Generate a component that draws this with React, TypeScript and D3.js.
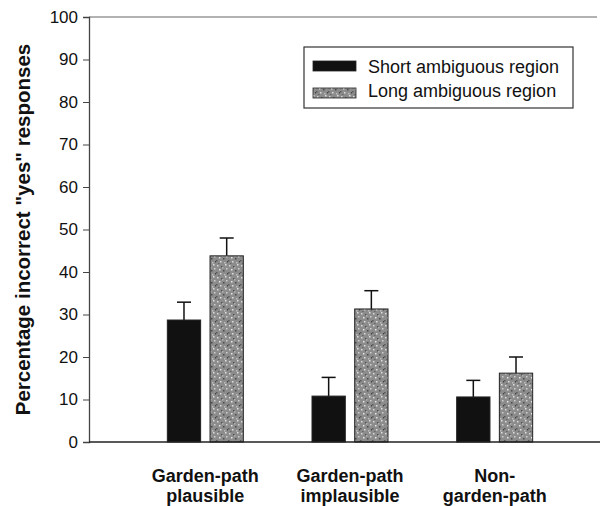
import React, { useRef, useEffect } from 'react';
import * as d3 from 'd3';

const categories = [['Garden-path', 'plausible'], ['Garden-path', 'implausible'], ['Non-', 'garden-path']];
const seriesNames = ['Short ambiguous region', 'Long ambiguous region'];
const shortValues = [28.7, 10.8, 10.6];
const shortErrors = [4.2, 4.4, 3.9];
const longValues = [43.8, 31.3, 16.2];
const longErrors = [4.2, 4.3, 3.8];
const yTicks = [0, 10, 20, 30, 40, 50, 60, 70, 80, 90, 100];

const FONT = 'Arial, "Liberation Sans", sans-serif';

const App = () => {
  const svgRef = useRef(null);
  const width = 600;
  const height = 506;

  useEffect(() => {
    const svg = d3.select(svgRef.current);
    svg.selectAll('*').remove();

    // speckled grey fill for the long series
    const defs = svg.append('defs');
    const pat = defs.append('pattern')
      .attr('id', 'speckle')
      .attr('patternUnits', 'userSpaceOnUse')
      .attr('width', 12).attr('height', 12);
    pat.append('rect').attr('width', 12).attr('height', 12).attr('fill', '#8c8c8c');
    const specks = [[1, 1, '#d8d8d8'], [5, 2, '#555'], [9, 0, '#e0e0e0'], [3, 5, '#e6e6e6'], [7, 6, '#4a4a4a'],
      [10, 4, '#cfcfcf'], [0, 8, '#5a5a5a'], [4, 9, '#dcdcdc'], [8, 10, '#bdbdbd'], [11, 9, '#444'], [2, 11, '#666'], [6, 3, '#b0b0b0']];
    specks.forEach(([x, y, c]) => pat.append('rect').attr('x', x).attr('y', y).attr('width', 1.5).attr('height', 1.5).attr('fill', c as string));

    const x0 = 89;
    const y = d3.scaleLinear().domain([0, 100]).range([442, 17]);
    const x = d3.scaleBand().domain(categories.map((c, i) => String(i))).range([133, 567]);
    const xs = d3.scaleBand().domain(['0', '1']).range([-38, 38]).paddingInner(0.22);

    const g = svg.append('g');

    // top frame line
    g.append('line').attr('x1', x0).attr('x2', 597).attr('y1', y(100)).attr('y2', y(100))
      .attr('stroke', '#666').attr('stroke-width', 1.2);

    const yAxis = d3.axisLeft(y).tickValues(yTicks).tickSize(6).tickPadding(5);
    const ya = g.append('g').attr('transform', `translate(${x0},0)`).call(yAxis);
    ya.select('.domain').attr('stroke', '#444').attr('stroke-width', 1.3);
    ya.selectAll('line').attr('stroke', '#444');
    ya.selectAll('text').attr('font-family', FONT).attr('font-size', 17).attr('fill', '#111');

    const groups = categories.map((c, i) => ({ i, vals: [shortValues[i], longValues[i]], errs: [shortErrors[i], longErrors[i]] }));
    groups.forEach((gr) => {
      const cx = (x(String(gr.i)) as number) + x.bandwidth() / 2;
      gr.vals.forEach((v, s) => {
        const bx = cx + (xs(String(s)) as number);
        const bw = xs.bandwidth();
        const mid = bx + bw / 2;
        const top = y(v + gr.errs[s]);
        g.append('line').attr('x1', mid).attr('x2', mid).attr('y1', y(v)).attr('y2', top)
          .attr('stroke', '#111').attr('stroke-width', 1.5);
        g.append('line').attr('x1', mid - 7).attr('x2', mid + 7).attr('y1', top).attr('y2', top)
          .attr('stroke', '#111').attr('stroke-width', 1.5);
        g.append('rect').attr('x', bx).attr('y', y(v)).attr('width', bw).attr('height', y(0) - y(v))
          .attr('fill', s === 0 ? '#111' : 'url(#speckle)')
          .attr('stroke', '#222').attr('stroke-width', 1);
      });
      const lab = g.append('text').attr('text-anchor', 'middle')
        .attr('font-family', FONT).attr('font-weight', 'bold')
        .attr('font-size', 18).attr('fill', '#111');
      categories[gr.i].forEach((t, k) => lab.append('tspan').attr('x', cx).attr('y', 482 + k * 20).text(t));
    });

    // x axis line
    g.append('line').attr('x1', x0).attr('x2', 600).attr('y1', y(0)).attr('y2', y(0))
      .attr('stroke', '#222').attr('stroke-width', 1.6);

    // y title
    g.append('text').attr('transform', `translate(30,${(y(0) + y(100)) / 2}) rotate(-90)`)
      .attr('text-anchor', 'middle').attr('font-family', FONT)
      .attr('font-weight', 'bold').attr('font-size', 20.5).attr('fill', '#111')
      .text('Percentage incorrect "yes" responses');

    // legend
    const lg = g.append('g').attr('transform', 'translate(304,47)');
    lg.append('rect').attr('width', 269).attr('height', 61).attr('fill', 'white')
      .attr('stroke', '#333').attr('stroke-width', 1.2);
    seriesNames.forEach((n, k) => {
      lg.append('rect').attr('x', 9).attr('y', 14 + k * 27).attr('width', 43).attr('height', 10)
        .attr('fill', k === 0 ? '#111' : 'url(#speckle)').attr('stroke', '#222').attr('stroke-width', 0.8);
      lg.append('text').attr('x', 64).attr('y', 26 + k * 24)
        .attr('font-family', FONT).attr('font-size', 18).attr('fill', '#111')
        .text(n);
    });
  }, []);

  return (
    <svg ref={svgRef} width={width} height={height} style={{ position: 'absolute', left: 0, top: 0 }} />
  );
};

export default App;
